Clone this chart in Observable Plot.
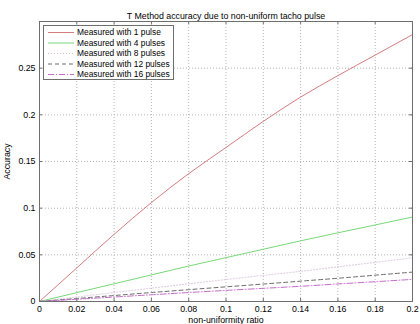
<!DOCTYPE html>
<html><head><meta charset="utf-8">
<script src="https://cdn.jsdelivr.net/npm/d3@7"></script>
<script src="https://cdn.jsdelivr.net/npm/@observablehq/plot@0.6"></script>
<style>
body{margin:0;background:#fff;font-family:"Liberation Sans",Arial,sans-serif;}
#wrap{position:relative;width:420px;height:324px;}
#legend{position:absolute;left:43px;top:25px;}
</style></head>
<body><div id="wrap"></div>
<script>
const titleText = "T Method accuracy due to non-uniform tacho pulse";
const xLabel = "non-uniformity ratio";
const yLabel = "Accuracy";
const ratio = [0,0.02,0.04,0.06,0.08,0.10,0.12,0.14,0.16,0.18,0.20];
const pulses1  = [0,0.036,0.072,0.106,0.137,0.165,0.193,0.219,0.242,0.264,0.286];
const pulses4  = [0,0.0095,0.019,0.0285,0.038,0.047,0.056,0.065,0.0736,0.082,0.0905];
const pulses8  = [0,0.0048,0.0096,0.0143,0.019,0.0235,0.028,0.0323,0.0372,0.0419,0.0469];
const pulses12 = [0,0.0032,0.0064,0.0096,0.0127,0.0157,0.0187,0.0218,0.0249,0.0282,0.0315];
const pulses16 = [0,0.0024,0.0048,0.0072,0.0096,0.0119,0.0141,0.0163,0.0188,0.0212,0.0237];
const seriesNames = ["Measured with 1 pulse","Measured with 4 pulses","Measured with 8 pulses","Measured with 12 pulses","Measured with 16 pulses"];
const seriesValues = [pulses1,pulses4,pulses8,pulses12,pulses16];
const seriesColors = ["#d47c80","#78d878","#d6c4d6","#6a6a6a","#c46cc8"];
const seriesDash = [null,null,"1,2","4,3","6,2,1,2"];
const xTicks = [0,0.02,0.04,0.06,0.08,0.1,0.12,0.14,0.16,0.18,0.2];
const yTicks = [0,0.05,0.1,0.15,0.2,0.25];

const W=420,H=324,mL=39,mR=8,mT=21,mB=23;
const pw=W-mL-mR, ph=H-mT-mB, tk=3;
const fmt = d3.format("~g");
const font = "Liberation Sans, Arial, sans-serif";

const rows = seriesValues.flatMap((vals,s)=>vals.map((v,i)=>({x:ratio[i], y:v, s})));

const marks = [
  Plot.gridX(xTicks,{stroke:"#b4b4b4",strokeOpacity:1,strokeDasharray:"1,2"}),
  Plot.gridY(yTicks,{stroke:"#b4b4b4",strokeOpacity:1,strokeDasharray:"1,2"}),
  Plot.axisX(xTicks,{tickFormat:fmt,tickSize:0,tickPadding:4,label:xLabel,labelAnchor:"center",labelArrow:"none",labelOffset:21,fontSize:8.8}),
  Plot.axisY(yTicks,{tickFormat:fmt,tickSize:0,tickPadding:4,label:yLabel,labelAnchor:"center",labelArrow:"none",labelOffset:36,fontSize:8.8}),
  Plot.tickX(xTicks,{x:d=>d,insetTop:ph-tk,stroke:"#6e6e6e"}),
  Plot.tickX(xTicks,{x:d=>d,insetBottom:ph-tk,stroke:"#6e6e6e"}),
  Plot.tickY(yTicks,{y:d=>d,insetRight:pw-tk,stroke:"#6e6e6e"}),
  Plot.tickY(yTicks,{y:d=>d,insetLeft:pw-tk,stroke:"#6e6e6e"}),
];
seriesValues.forEach((vals,s)=>{
  marks.push(Plot.line(rows.filter(r=>r.s===s),{x:"x",y:"y",stroke:seriesColors[s],strokeWidth:1,strokeDasharray:seriesDash[s]||undefined,curve:"monotone-x"}));
});
marks.push(Plot.frame({stroke:"#6e6e6e"}));
marks.push(Plot.text([titleText],{frameAnchor:"top",dy:-9,fontSize:8.8,fill:"#000"}));

const chart = Plot.plot({
  width:W,height:H,marginLeft:mL,marginRight:mR,marginTop:mT,marginBottom:mB,
  style:{fontFamily:font,fontSize:"8.8px",background:"#fff",color:"#000"},
  x:{domain:[0,0.2]},
  y:{domain:[0,0.3]},
  marks
});
const wrap = document.getElementById("wrap");
wrap.appendChild(chart);

// legend
const lw=131, lh=55, rowH=10.5, row0=7.5;
const leg = d3.select(wrap).append("svg").attr("id","legend").attr("width",lw).attr("height",lh);
leg.append("rect").attr("x",0.5).attr("y",0.5).attr("width",lw-1).attr("height",lh-1).attr("fill","#fff").attr("stroke","#6e6e6e");
seriesNames.forEach((name,i)=>{
  const y=row0+i*rowH;
  leg.append("line").attr("x1",5).attr("x2",31).attr("y1",y).attr("y2",y)
    .attr("stroke",seriesColors[i]).attr("stroke-width",1).attr("stroke-dasharray",seriesDash[i]);
  leg.append("text").attr("x",34).attr("y",y).attr("dy","0.35em").attr("font-family",font).attr("font-size",8.4).text(name);
});
</script></body></html>
